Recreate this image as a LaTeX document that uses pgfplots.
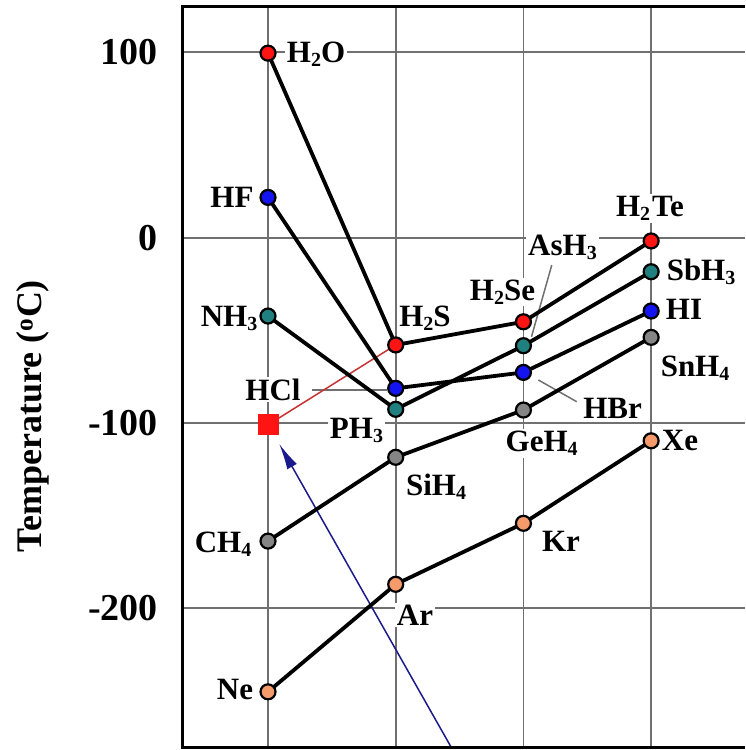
\documentclass[border=0pt]{standalone}
\usepackage{fontspec}
\setmainfont{Liberation Serif}
\usepackage{pgfplots}
\pgfplotsset{compat=1.18}
\usetikzlibrary{arrows.meta}

\definecolor{ptred}{HTML}{FF1414}
\definecolor{ptblue}{HTML}{1414F0}
\definecolor{ptteal}{HTML}{208080}
\definecolor{ptgrey}{HTML}{858585}
\definecolor{ptorange}{HTML}{F59A6A}
\definecolor{gridgray}{HTML}{707070}
\definecolor{thinred}{HTML}{C83232}
\definecolor{arrowblue}{HTML}{1A1A8C}

% lowered, smaller digit for formulas
\newcommand\sub[1]{\raisebox{-4pt}{\fontsize{20}{20}\selectfont #1}}

\tikzset{
  lbl/.style={fill=white, inner sep=2pt, anchor=base, font=\fontsize{31}{34}\selectfont\bfseries},
  ser/.style={black, line width=3.8pt, mark=*, mark size=7.5pt,
    mark options={draw=black, line width=2.2pt, fill=#1}},
  leader/.style={draw=gridgray, line width=1.5pt}
}

\begin{document}
\begin{tikzpicture}
\begin{axis}[
  scale only axis, width=562pt, height=741pt,
  xmin=0.3344, xmax=4.735, ymin=-275.3, ymax=124.4,
  axis line style={draw=none},
  xtick={1,2,3,4}, xticklabels={},
  ytick={-200,-100,0,100}, yticklabels={-200,-100,0,100},
  major tick length=0pt,
  grid=major, grid style={line width=1.8pt, draw=gridgray},
  yticklabel style={font=\fontsize{38}{40}\selectfont\bfseries, inner sep=0pt, xshift=-25pt},
  ylabel={Temperature (\textsuperscript{o}C)},
  every axis y label/.style={at={(axis description cs:-0.267,0.448)}, rotate=90,
    anchor=center, font=\fontsize{36}{40}\selectfont\bfseries},
  set layers, mark layer=axis foreground,
]

% labels (white boxes break the grid)
\node[lbl] at (axis cs:1.376,94.2) {H\sub{2}O};
\node[lbl] at (axis cs:0.718,16.0) {HF};
\node[lbl] at (axis cs:0.695,-48.2) {NH\sub{3}};
\node[lbl] at (axis cs:0.648,-169.6) {CH\sub{4}};
\node[lbl] at (axis cs:0.742,-249.4) {Ne};
\node[lbl] at (axis cs:1.039,-87.6) {HCl};
\node[lbl] at (axis cs:1.693,-108.1) {PH\sub{3}};
\node[lbl] at (axis cs:2.229,-48.2) {H\sub{2}S};
\node[lbl] at (axis cs:2.316,-138.9) {SiH\sub{4}};
\node[lbl] at (axis cs:2.151,-209.0) {Ar};
\node[lbl] at (axis cs:2.836,-33.7) {H\sub{2}Se};
\node[lbl] at (axis cs:3.306,-9.9) {AsH\sub{3}};
\node[lbl] at (axis cs:3.698,-97.5) {HBr};
\node[lbl] at (axis cs:3.143,-115.5) {GeH\sub{4}};
\node[lbl] at (axis cs:3.294,-169.4) {Kr};
\node[lbl] at (axis cs:3.991,11.3) {H\sub{2}\kern2pt Te};
\node[lbl] at (axis cs:4.391,-22.9) {SbH\sub{3}};
\node[lbl] at (axis cs:4.258,-44.1) {HI};
\node[lbl] at (axis cs:4.344,-75.0) {SnH\sub{4}};
\node[lbl] at (axis cs:4.226,-114.6) {Xe};

% leader lines
\draw[leader] (axis cs:1.342,-82.2) -- (axis cs:1.929,-82.2);
\draw[leader] (axis cs:3.222,-14.8) -- (axis cs:3.063,-53.5);
\draw[leader] (axis cs:3.117,-76.8) -- (axis cs:3.417,-88.5);

% extrapolated water point
\addplot[thinred, line width=1.5pt] coordinates {(1,-101) (2,-57.9)};
\addplot[only marks, mark=square*, mark size=10pt, mark options={fill=ptred, draw=ptred, line width=0pt}]
  coordinates {(1,-101)};
\addplot[arrowblue, line width=1.5pt, -{Latex[length=26pt,width=11pt]}]
  coordinates {(2.641,-300) (1.088,-111.3)};

% hydrides
\addplot[ser=ptred]    coordinates {(1,99.5) (2,-57.9) (3,-45.4) (4,-1.8)};
\addplot[ser=ptblue]   coordinates {(1,21.7) (2,-81.3) (3,-72.7) (4,-39.6)};
\addplot[ser=ptteal]   coordinates {(1,-42.3) (2,-92.6) (3,-58.3) (4,-18.4)};
\addplot[ser=ptgrey]   coordinates {(1,-163.7) (2,-118.5) (3,-93.0) (4,-53.8)};
\addplot[ser=ptorange] coordinates {(1,-245.0) (2,-187.0) (3,-154.1) (4,-109.6)};

\end{axis}
\draw[line width=3pt] (current axis.north east) -- (current axis.north west)
  -- (current axis.south west) -- (current axis.south east);
\pgfresetboundingbox
\path (current axis.south west) ++(-183pt,-2pt) rectangle ([yshift=7pt]current axis.north east);
\end{tikzpicture}
\end{document}
